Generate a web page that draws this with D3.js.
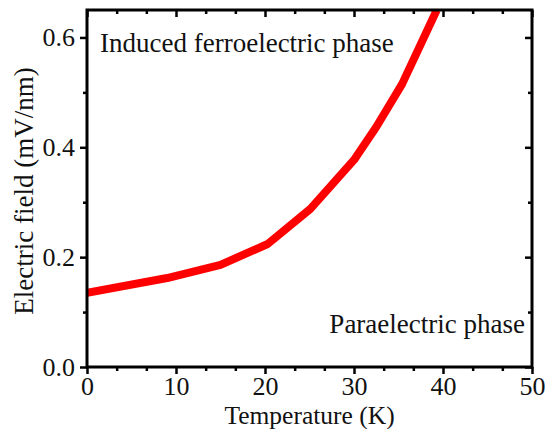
<!DOCTYPE html>
<html><head><meta charset="utf-8">
<script src="https://cdn.jsdelivr.net/npm/d3@7"></script>
<style>body{margin:0;background:#fff}svg{display:block}</style>
</head><body><svg id="c" width="547" height="429"></svg>
<script>
const temperature = [0, 9, 15, 20.3, 25.1, 30, 32.5, 35.4, 39.3];
const field = [0.135, 0.162, 0.186, 0.224, 0.288, 0.377, 0.437, 0.515, 0.65];
const xTicks = [0, 10, 20, 30, 40, 50];
const yTicks = [0.0, 0.2, 0.4, 0.6];
const xLabel = "Temperature (K)";
const yLabel = "Electric field (mV/nm)";
const labelTop = "Induced ferroelectric phase";
const labelBottom = "Paraelectric phase";

const FONT = "'Liberation Serif', 'Times New Roman', serif";
const svg = d3.select("#c");
const L = 87, R = 532, T = 10, B = 367;
const x = d3.scaleLinear().domain([0, 50]).range([L, R]);
const y = d3.scaleLinear().domain([0, 0.65]).range([B, T]);
const fs = 27, tfs = 26, xfs = 25.5;

svg.append("defs").append("clipPath").attr("id","clip").append("rect")
  .attr("x",L).attr("y",T).attr("width",R-L).attr("height",B-T);

const line = d3.line().x((d,i)=>x(temperature[i])).y(d=>y(d));
svg.append("path").datum(field).attr("d", line).attr("clip-path","url(#clip)")
  .attr("fill","none").attr("stroke","#ff0000").attr("stroke-width",8).attr("stroke-linejoin","round");

const xMinor = d3.range(0, 50.01, 10/3).filter(v => Math.abs(v/10 - Math.round(v/10)) > 0.01);
const yMinor = d3.range(0.1, 0.65, 0.2);

function styleAxis(g){ g.select(".domain").remove(); g.attr("font-family", FONT).attr("font-size", tfs);
  g.selectAll("line").attr("stroke","#000").attr("stroke-width",2.5);
  g.selectAll("text").style("font-family", FONT).style("font-size",tfs+"px").attr("fill","#111"); }

svg.append("g").attr("transform",`translate(0,${B})`)
  .call(d3.axisBottom(x).tickValues(xTicks).tickSize(7).tickPadding(3).tickFormat(d3.format("d"))).call(styleAxis);
svg.append("g").attr("transform",`translate(0,${B})`)
  .call(d3.axisBottom(x).tickValues(xMinor).tickSize(4).tickFormat("")).call(styleAxis);
svg.append("g").attr("transform",`translate(0,${T})`)
  .call(d3.axisBottom(x).tickValues(xTicks).tickSize(7).tickFormat("")).call(styleAxis);
svg.append("g").attr("transform",`translate(0,${T})`)
  .call(d3.axisBottom(x).tickValues(xMinor).tickSize(4).tickFormat("")).call(styleAxis);
svg.append("g").attr("transform",`translate(${L},0)`)
  .call(d3.axisLeft(y).tickValues(yTicks).tickSize(7).tickPadding(5).tickFormat(d3.format(".1f"))).call(styleAxis);
svg.append("g").attr("transform",`translate(${L},0)`)
  .call(d3.axisLeft(y).tickValues(yMinor).tickSize(4).tickFormat("")).call(styleAxis);
svg.append("g").attr("transform",`translate(${R},0)`)
  .call(d3.axisLeft(y).tickValues(yTicks).tickSize(7).tickFormat("")).call(styleAxis);
svg.append("g").attr("transform",`translate(${R},0)`)
  .call(d3.axisLeft(y).tickValues(yMinor).tickSize(4).tickFormat("")).call(styleAxis);

svg.append("rect").attr("x",L).attr("y",T).attr("width",R-L).attr("height",B-T)
  .attr("fill","none").attr("stroke","#000").attr("stroke-width",3);

function txt(s){ return svg.append("text").style("font-family",FONT).style("font-size",(s||fs)+"px").attr("fill","#111"); }
txt(xfs).attr("x",(L+R)/2).attr("y",424).attr("text-anchor","middle").text(xLabel);
txt().attr("transform",`translate(33,191) rotate(-90)`).attr("text-anchor","middle").text(yLabel);
txt().attr("x",100).attr("y",52).text(labelTop);
txt().attr("x",525).attr("y",333).attr("text-anchor","end").text(labelBottom);
</script></body></html>
